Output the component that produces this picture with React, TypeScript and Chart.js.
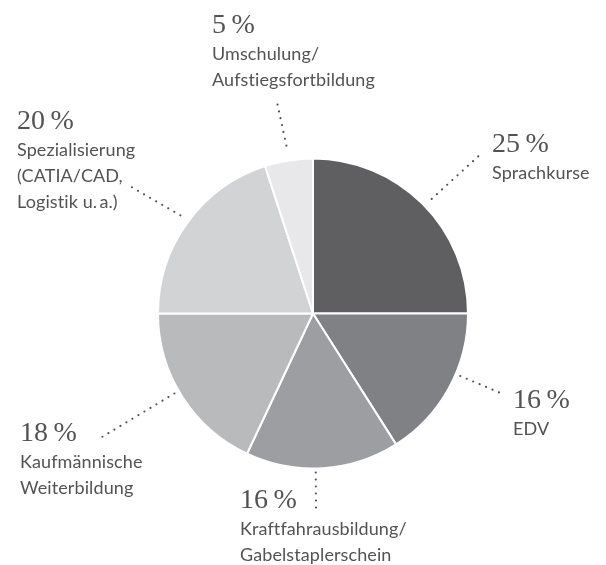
import React, { useEffect, useRef } from "react";
import { Chart, registerables } from "chart.js";

Chart.register(...registerables);

const categories: string[][] = [
  ["Sprachkurse"],
  ["EDV"],
  ["Kraftfahrausbildung/", "Gabelstaplerschein"],
  ["Kaufmännische", "Weiterbildung"],
  ["Spezialisierung", "(CATIA/CAD,", "Logistik u.\u2009a.)"],
  ["Umschulung/", "Aufstiegsfortbildung"],
];
const shares: number[] = [25, 16, 16, 18, 20, 5];
const percentLabels: string[] = ["25\u2009%", "16\u2009%", "16\u2009%", "18\u2009%", "20\u2009%", "5\u2009%"];
const sliceColors: string[] = ["#5f5f61", "#808184", "#9d9ea1", "#b9babc", "#d2d3d5", "#e8e8ea"];

// annotation layout: text anchor, leader inner angle (deg from top) & distance from centre, leader outer end
const labelLayout = [
  { tx: 492, ty: 152, ang: 46, dist: 165, ox: 482, oy: 153 },
  { tx: 513, ty: 408, ang: 113, dist: 160, ox: 505, oy: 395 },
  { tx: 240, ty: 508, ang: 179, dist: 159, ox: 316, oy: 510 },
  { tx: 20, ty: 441, ang: 240, dist: 160, ox: 102, oy: 437 },
  { tx: 17, ty: 129, ang: 306.5, dist: 165, ox: 128, oy: 185 },
  { tx: 212, ty: 33, ang: 351, dist: 170, ox: 277, oy: 102 },
];

const TEXT_COLOR = "#535355";

const labelPlugin = {
  id: "pieLabels",
  afterDatasetsDraw(chart: any) {
    const ctx = chart.ctx as CanvasRenderingContext2D;
    const meta = chart.getDatasetMeta(0);
    meta.data.forEach((arc: any, i: number) => {
      const L = labelLayout[i];
      const a = (L.ang * Math.PI) / 180;
      const ix = arc.x + L.dist * Math.sin(a);
      const iy = arc.y - L.dist * Math.cos(a);
      ctx.save();
      ctx.strokeStyle = TEXT_COLOR;
      ctx.lineWidth = 2.2;
      ctx.lineCap = "round";
      ctx.setLineDash([0, 7]);
      ctx.beginPath();
      ctx.moveTo(ix, iy);
      ctx.lineTo(L.ox, L.oy);
      ctx.stroke();
      ctx.restore();

      ctx.save();
      ctx.fillStyle = TEXT_COLOR;
      ctx.textAlign = "left";
      ctx.textBaseline = "alphabetic";
      ctx.font = '28px "Liberation Serif", serif';
      ctx.fillText(percentLabels[i], L.tx, L.ty);
      ctx.font = '18px Lato, sans-serif';
      (ctx as any).letterSpacing = "0.1px";
      categories[i].forEach((line, j) => {
        ctx.fillText(line, L.tx, L.ty + 27 + j * 26);
      });
      ctx.restore();
    });
  },
};

export default function App() {
  const ref = useRef<HTMLCanvasElement | null>(null);
  useEffect(() => {
    if (!ref.current) return;
    const chart = new Chart(ref.current, {
      type: "pie",
      data: {
        labels: categories.map((c) => c.join(" ")),
        datasets: [
          {
            data: shares,
            backgroundColor: sliceColors,
            borderColor: "#ffffff",
            borderWidth: 2,
          },
        ],
      },
      options: {
        responsive: false,
        animation: false,
        layout: { padding: { left: 157, right: 137, top: 157, bottom: 95 } },
        plugins: {
          legend: { display: false },
          tooltip: { enabled: false },
        },
      },
      plugins: [labelPlugin],
    });
    return () => chart.destroy();
  }, []);
  return (
    <div style={{ position: "absolute", left: 0, top: 0, width: 606, height: 565, background: "#fff" }}>
      <canvas ref={ref} width={606} height={565} />
    </div>
  );
}
